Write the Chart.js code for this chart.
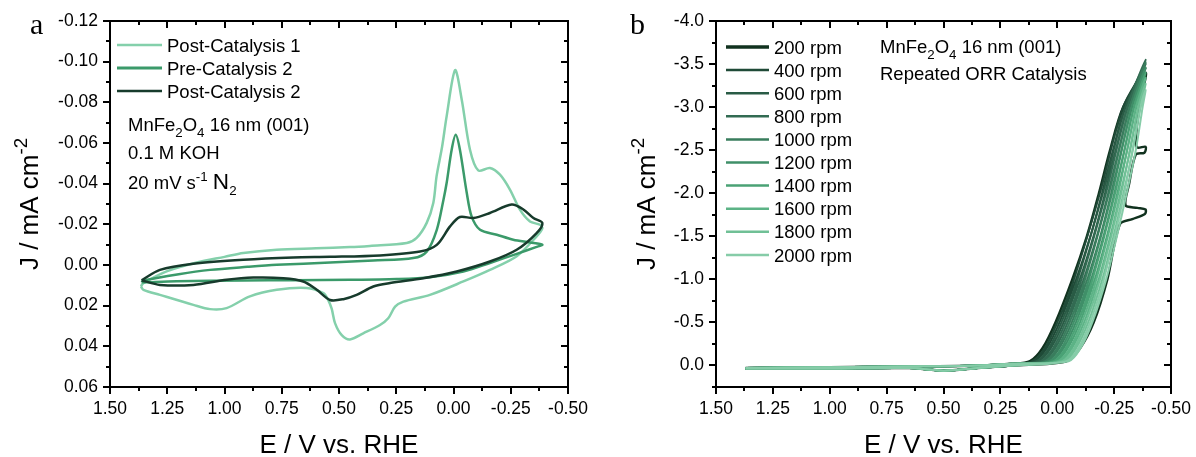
<!DOCTYPE html>
<html>
<head>
<meta charset="utf-8">
<script src="https://cdn.jsdelivr.net/npm/chart.js@4.4.0/dist/chart.umd.min.js"></script>
<style>
  body { margin: 0; background: #fff; }
  #wrap { position: relative; width: 1196px; height: 457px; }
  .panel { position: absolute; top: 0; width: 598px; height: 457px; }
</style>
</head>
<body>
<div id="wrap">
  <div class="panel" style="left:0"><canvas id="cvA" width="598" height="457"></canvas></div>
  <div class="panel" style="left:598px"><canvas id="cvB" width="598" height="457"></canvas></div>
</div>
<script>
// ---------- panel a : CV in N2 ----------
const post1E = [1.365, 1.354, 1.25, 1.121, 1.0, 0.918, 0.772, 0.6, 0.452, 0.365, 0.204, 0.161, 0.117, 0.088, 0.074, 0.05, 0.030, -0.007, -0.036, -0.072, -0.108, -0.159, -0.203, -0.247, -0.290, -0.334, -0.378, -0.388, -0.363, -0.276, -0.159, -0.043, 0.103, 0.219, 0.255, 0.285, 0.321, 0.394, 0.452, 0.488, 0.517, 0.532, 0.55, 0.568, 0.641, 0.772, 0.889, 0.991, 1.063, 1.136, 1.282, 1.354, 1.365];
const post1J = [0.0105, 0.0089, 0.003, -0.0012, -0.004, -0.0059, -0.0075, -0.0082, -0.0088, -0.0094, -0.0108, -0.0133, -0.0207, -0.0306, -0.0436, -0.058, -0.0731, -0.0958, -0.0813, -0.0567, -0.0465, -0.0477, -0.0444, -0.0370, -0.0272, -0.0214, -0.0198, -0.018, -0.0141, -0.0043, 0.0024, 0.0081, 0.0147, 0.0180, 0.0205, 0.0262, 0.0295, 0.0336, 0.0366, 0.0345, 0.0287, 0.0215, 0.0165, 0.0138, 0.0113, 0.0122, 0.0154, 0.0212, 0.0217, 0.0196, 0.0147, 0.0122, 0.0105];

const pre2E = [1.362, 1.354, 1.2, 1.063, 0.9, 0.772, 0.539, 0.35, 0.176, 0.117, 0.073, 0.044, 0.030, 0.008, -0.0096, -0.028, -0.058, -0.079, -0.116, -0.189, -0.261, -0.334, -0.388, -0.36, -0.276, -0.159, -0.043, 0.103, 0.248, 0.452, 0.7, 0.918, 1.209, 1.354, 1.362];
const pre2J = [0.0085, 0.0076, 0.0045, 0.0024, 0.0009, -0.0001, -0.0012, -0.0022, -0.0034, -0.0066, -0.0173, -0.0320, -0.0403, -0.0567, -0.064, -0.0567, -0.0354, -0.0239, -0.0173, -0.0149, -0.0124, -0.0111, -0.0100, -0.0088, -0.0055, -0.0010, 0.0032, 0.0060, 0.0069, 0.0073, 0.0075, 0.0076, 0.0080, 0.0085, 0.0085];

const post2E = [1.362, 1.282, 1.136, 0.918, 0.7, 0.539, 0.321, 0.146, 0.073, 0.015, -0.028, -0.087, -0.159, -0.254, -0.305, -0.349, -0.388, -0.363, -0.276, -0.159, -0.014, 0.132, 0.277, 0.350, 0.423, 0.481, 0.539, 0.597, 0.656, 0.743, 0.874, 0.991, 1.136, 1.282, 1.362];
const post2J = [0.0075, 0.0024, -0.0006, -0.0026, -0.0037, -0.0040, -0.0047, -0.0066, -0.0099, -0.0190, -0.0236, -0.0231, -0.0256, -0.0297, -0.0273, -0.0231, -0.0207, -0.0157, -0.0075, -0.0017, 0.0032, 0.0065, 0.0089, 0.0106, 0.0147, 0.0168, 0.0172, 0.0122, 0.0081, 0.0065, 0.0062, 0.0073, 0.0098, 0.0098, 0.0075];

const cvLabels = ['Post-Catalysis 1', 'Pre-Catalysis 2', 'Post-Catalysis 2'];
const cvColors = ['#84d0ab', '#3b9a6a', '#173b2c'];

// ---------- panel b : ORR at different rotation rates ----------
const rpmLabels = ['200 rpm', '400 rpm', '600 rpm', '800 rpm', '1000 rpm', '1200 rpm', '1400 rpm', '1600 rpm', '1800 rpm', '2000 rpm'];
const rpmColors = ['#11321f', '#1f4a37', '#295b45', '#326b52', '#397d5d', '#3f8f68', '#4aa275', '#5cb386', '#70c096', '#86cca8'];

const rpm200E = [1.37, 1.0, 0.6, 0.35, 0.2, 0.120, 0.065, 0.008, -0.066, -0.130, -0.183, -0.232, -0.290, -0.388, -0.36, -0.345, -0.352, -0.388, -0.383, -0.345, -0.315, -0.30, -0.352, -0.388, -0.385, -0.33, -0.275, -0.22, -0.16, -0.10, -0.04, 0.2, 0.35, 0.5, 0.65, 1.0, 1.37];
const rpm200J = [0.03, 0.02, 0.01, 0.0, -0.02, -0.05, -0.2, -0.5, -1.0, -1.5, -2.0, -2.5, -3.0, -3.40, -3.0, -2.62, -2.53, -2.54, -2.47, -2.45, -2.1, -1.86, -1.83, -1.81, -1.76, -1.70, -1.64, -1.0, -0.5, -0.2, -0.05, 0.0, 0.03, 0.06, 0.03, 0.035, 0.035];
const rpm400E = [1.37, 1.0, 0.6, 0.35, 0.2, 0.101, 0.046, -0.010, -0.083, -0.145, -0.197, -0.245, -0.299, -0.388, -0.289, -0.187, -0.073, 0.000, 0.056, 0.111, 0.2, 0.35, 0.5, 0.65, 1.0, 1.37];
const rpm400J = [0.03, 0.02, 0.01, 0.0, -0.02, -0.05, -0.2, -0.5, -1.0, -1.5, -2.0, -2.5, -3.0, -3.45, -3.0, -2.0, -1.0, -0.5, -0.2, -0.05, 0.0, 0.03, 0.06, 0.03, 0.035, 0.035];
const rpm600E = [1.37, 1.0, 0.6, 0.35, 0.2, 0.082, 0.028, -0.028, -0.099, -0.159, -0.210, -0.257, -0.309, -0.388, -0.299, -0.200, -0.089, -0.018, 0.038, 0.092, 0.2, 0.35, 0.5, 0.65, 1.0, 1.37];
const rpm600J = [0.03, 0.02, 0.01, 0.0, -0.02, -0.05, -0.2, -0.5, -1.0, -1.5, -2.0, -2.5, -3.0, -3.50, -3.0, -2.0, -1.0, -0.5, -0.2, -0.05, 0.0, 0.03, 0.06, 0.03, 0.035, 0.035];
const rpm800E = [1.37, 1.0, 0.6, 0.35, 0.2, 0.063, 0.009, -0.046, -0.116, -0.174, -0.224, -0.270, -0.318, -0.388, -0.308, -0.214, -0.106, -0.036, 0.019, 0.073, 0.2, 0.35, 0.5, 0.65, 1.0, 1.37];
const rpm800J = [0.03, 0.02, 0.01, 0.0, -0.02, -0.05, -0.2, -0.5, -1.0, -1.5, -2.0, -2.5, -3.0, -3.55, -3.0, -2.0, -1.0, -0.5, -0.2, -0.05, 0.0, 0.03, 0.06, 0.03, 0.035, 0.035];
const rpm1000E = [1.37, 1.0, 0.6, 0.35, 0.2, 0.044, -0.009, -0.064, -0.132, -0.189, -0.237, -0.282, -0.328, -0.388, -0.318, -0.227, -0.122, -0.054, 0.001, 0.054, 0.2, 0.35, 0.5, 0.65, 1.0, 1.37];
const rpm1000J = [0.03, 0.02, 0.01, 0.0, -0.02, -0.05, -0.2, -0.5, -1.0, -1.5, -2.0, -2.5, -3.0, -3.52, -3.0, -2.0, -1.0, -0.5, -0.2, -0.05, 0.0, 0.03, 0.06, 0.03, 0.035, 0.035];
const rpm1200E = [1.37, 1.0, 0.6, 0.35, 0.2, 0.026, -0.028, -0.082, -0.149, -0.203, -0.251, -0.295, -0.337, -0.388, -0.327, -0.241, -0.139, -0.072, -0.018, 0.036, 0.2, 0.35, 0.5, 0.65, 1.0, 1.37];
const rpm1200J = [0.03, 0.02, 0.01, 0.0, -0.02, -0.05, -0.2, -0.5, -1.0, -1.5, -2.0, -2.5, -3.0, -3.46, -3.0, -2.0, -1.0, -0.5, -0.2, -0.05, 0.0, 0.03, 0.06, 0.03, 0.035, 0.035];
const rpm1400E = [1.37, 1.0, 0.6, 0.35, 0.2, 0.007, -0.046, -0.100, -0.165, -0.218, -0.264, -0.307, -0.347, -0.388, -0.337, -0.254, -0.155, -0.090, -0.036, 0.017, 0.2, 0.35, 0.5, 0.65, 1.0, 1.37];
const rpm1400J = [0.03, 0.02, 0.01, 0.0, -0.02, -0.05, -0.2, -0.5, -1.0, -1.5, -2.0, -2.5, -3.0, -3.40, -3.0, -2.0, -1.0, -0.5, -0.2, -0.05, 0.0, 0.03, 0.06, 0.03, 0.035, 0.035];
const rpm1600E = [1.37, 1.0, 0.6, 0.35, 0.2, -0.012, -0.065, -0.118, -0.182, -0.233, -0.278, -0.320, -0.356, -0.388, -0.346, -0.268, -0.172, -0.108, -0.055, -0.002, 0.2, 0.35, 0.5, 0.65, 1.0, 1.37];
const rpm1600J = [0.03, 0.02, 0.01, 0.0, -0.02, -0.05, -0.2, -0.5, -1.0, -1.5, -2.0, -2.5, -3.0, -3.34, -3.0, -2.0, -1.0, -0.5, -0.2, -0.05, 0.0, 0.03, 0.06, 0.03, 0.035, 0.035];
const rpm1800E = [1.37, 1.0, 0.6, 0.35, 0.2, -0.031, -0.083, -0.136, -0.198, -0.247, -0.291, -0.332, -0.366, -0.388, -0.356, -0.281, -0.188, -0.126, -0.073, -0.021, 0.2, 0.35, 0.5, 0.65, 1.0, 1.37];
const rpm1800J = [0.03, 0.02, 0.01, 0.0, -0.02, -0.05, -0.2, -0.5, -1.0, -1.5, -2.0, -2.5, -3.0, -3.27, -3.0, -2.0, -1.0, -0.5, -0.2, -0.05, 0.0, 0.03, 0.06, 0.03, 0.035, 0.035];
const rpm2000E = [1.37, 1.0, 0.6, 0.35, 0.2, -0.050, -0.102, -0.154, -0.215, -0.262, -0.305, -0.345, -0.375, -0.388, -0.365, -0.295, -0.205, -0.144, -0.092, -0.040, 0.2, 0.35, 0.5, 0.65, 1.0, 1.37];
const rpm2000J = [0.03, 0.02, 0.01, 0.0, -0.02, -0.05, -0.2, -0.5, -1.0, -1.5, -2.0, -2.5, -3.0, -3.20, -3.0, -2.0, -1.0, -0.5, -0.2, -0.05, 0.0, 0.03, 0.06, 0.03, 0.035, 0.035];

const rpmE = [rpm200E, rpm400E, rpm600E, rpm800E, rpm1000E, rpm1200E, rpm1400E, rpm1600E, rpm1800E, rpm2000E];
const rpmJ = [rpm200J, rpm400J, rpm600J, rpm800J, rpm1000J, rpm1200J, rpm1400J, rpm1600J, rpm1800J, rpm2000J];

// axis tick steps
const xTicksStep = 0.25;
const yTicksStepA = 0.02;
const yTicksStepB = 0.5;

const FONT = '"Liberation Sans", Arial, sans-serif';
const SERIF = '"Liberation Serif", "Times New Roman", serif';
const TITLE_SIZE = 26;
const TEXT_SIZE = 18.5;

function pts(xs, ys) {
    return xs.map((v, i) => ({x: v, y: ys[i]}));
}

function richWidth(ctx, parts, size) {
    let w = 0;
    parts.forEach(p => {
        let fs = size;
        if (p[1] === 'sub' || p[1] === 'sup') fs = size * 0.72;
        if (p[1] === 'big') fs = size * 1.22;
        ctx.font = fs + 'px ' + FONT;
        w += ctx.measureText(p[0]).width;
    });
    return w;
}

function drawRich(ctx, x, y, parts, size) {
    let cx = x;
    parts.forEach(p => {
        let fs = size, dy = 0;
        if (p[1] === 'sub') { fs = size * 0.72; dy = size * 0.3; }
        if (p[1] === 'sup') { fs = size * 0.72; dy = -size * 0.42; }
        if (p[1] === 'big') { fs = size * 1.22; }
        ctx.font = fs + 'px ' + FONT;
        ctx.fillText(p[0], cx, y + dy);
        cx += ctx.measureText(p[0]).width;
    });
}

// frame, minor ticks, mirrored ticks, legend and notes
const decor = {
    id: 'decor',
    afterDraw(chart, args, o) {
        const {ctx, chartArea: a, scales: {x, y}} = chart;
        ctx.save();
        ctx.strokeStyle = '#000';
        ctx.lineWidth = 2;
        const L = Math.round(a.left), R = Math.round(a.right), T = Math.round(a.top), B = Math.round(a.bottom);
        ctx.strokeRect(L, T, R - L, B - T);
        ctx.beginPath();
        let n = Math.round((x.max - x.min) / (o.xStep / 2));
        for (let k = 0; k <= n; k++) {
            const px = Math.round(x.getPixelForValue(x.min + k * o.xStep / 2));
            const len = k % 2 === 0 ? 7 : 4;
            ctx.moveTo(px, B); ctx.lineTo(px, B + len);
            ctx.moveTo(px, T); ctx.lineTo(px, T + len);
        }
        n = Math.round((y.max - y.min) / (o.yStep / 2));
        for (let k = 0; k <= n; k++) {
            const py = Math.round(y.getPixelForValue(y.min + k * o.yStep / 2));
            const len = k % 2 === 0 ? 7 : 4;
            ctx.moveTo(L, py); ctx.lineTo(L - len, py);
            ctx.moveTo(R, py); ctx.lineTo(R - len, py);
        }
        ctx.stroke();

        ctx.fillStyle = '#000';
        ctx.textBaseline = 'alphabetic';
        // legend
        o.legend.forEach((it, i) => {
            const ly = o.legendY + i * o.legendGap;
            ctx.strokeStyle = it.color;
            ctx.lineWidth = it.width;
            ctx.beginPath();
            ctx.moveTo(o.legendX, ly); ctx.lineTo(o.legendX + o.legendLen, ly);
            ctx.stroke();
            ctx.font = TEXT_SIZE + 'px ' + FONT;
            ctx.fillText(it.label, o.legendX + o.legendLen + 5, ly + TEXT_SIZE * 0.36);
        });
        // notes
        o.notes.forEach(nt => drawRich(ctx, nt.x, nt.y, nt.parts, TEXT_SIZE));
        // axis titles
        const xt = [['E / V vs. RHE']];
        const xw = richWidth(ctx, xt, TITLE_SIZE);
        drawRich(ctx, (L + R) / 2 - xw / 2, 453, xt, TITLE_SIZE);
        const yt = [['J / mA cm'], ['-2', 'sup']];
        const yw = richWidth(ctx, yt, TITLE_SIZE);
        ctx.save();
        ctx.translate(o.yTitleX, (T + B) / 2);
        ctx.rotate(-Math.PI / 2);
        drawRich(ctx, -yw / 2, 9, yt, TITLE_SIZE);
        ctx.restore();
        // panel letter
        ctx.font = '30px ' + SERIF;
        ctx.fillText(o.letter, o.letterX, 34);
        ctx.restore();
    }
};

function makeOptions(yMin, yMax, yStep, digits, padRight, yWidth, extra) {
    return {
        responsive: false,
        animation: false,
        devicePixelRatio: 1,
        layout: {padding: {left: 0, right: padRight, top: 21, bottom: 0}},
        elements: {point: {radius: 0}, line: {borderJoinStyle: 'round', capBezierPoints: true}},
        plugins: {legend: {display: false}, tooltip: {enabled: false}, decor: extra},
        scales: {
            x: {
                type: 'linear', reverse: true, min: -0.5, max: 1.5,
                ticks: {stepSize: xTicksStep, includeBounds: false, autoSkip: false, maxRotation: 0, padding: 5, color: '#000',
                        font: {family: FONT, size: 17.5},
                        callback: v => (Math.abs(v) < 1e-9 ? 0 : v).toFixed(2)},
                grid: {drawOnChartArea: false, tickLength: 7, color: 'rgba(0,0,0,0)'},
                border: {display: false},
                afterFit: s => { s.height = 70; }
            },
            y: {
                type: 'linear', reverse: true, min: yMin, max: yMax,
                ticks: {stepSize: yStep, includeBounds: false, autoSkip: false, padding: 5, color: '#000',
                        font: {family: FONT, size: 17.5},
                        callback: v => (Math.abs(v) < 1e-9 ? 0 : v).toFixed(digits)},
                grid: {drawOnChartArea: false, tickLength: 7, color: 'rgba(0,0,0,0)'},
                border: {display: false},
                afterFit: s => { s.width = yWidth; }
            }
        }
    };
}

// panel a
new Chart(document.getElementById('cvA'), {
    type: 'line',
    data: {
        datasets: [
            {label: cvLabels[0], data: pts(post1E, post1J), borderColor: cvColors[0], borderWidth: 2.5, tension: 0.3, fill: false, order: 3},
            {label: cvLabels[1], data: pts(pre2E, pre2J), borderColor: cvColors[1], borderWidth: 2.5, tension: 0.3, fill: false, order: 2},
            {label: cvLabels[2], data: pts(post2E, post2J), borderColor: cvColors[2], borderWidth: 2.5, tension: 0.3, fill: false, order: 1}
        ]
    },
    options: makeOptions(-0.12, 0.06, yTicksStepA, 2, 30, 110, {
        xStep: xTicksStep, yStep: yTicksStepA,
        legend: cvLabels.map((l, i) => ({label: l, color: cvColors[i], width: i === 1 ? 3 : 2.5})),
        legendX: 117, legendY: 45, legendGap: 23, legendLen: 45,
        notes: [
            {x: 128, y: 131, parts: [['MnFe'], ['2', 'sub'], ['O'], ['4', 'sub'], [' 16 nm (001)']]},
            {x: 128, y: 159, parts: [['0.1 M KOH']]},
            {x: 128, y: 189, parts: [['20 mV s'], ['-1', 'sup'], [' '], ['N', 'big'], ['2', 'sub']]}
        ],
        yTitleX: 29, letter: 'a', letterX: 30
    }),
    plugins: [decor]
});

// panel b
new Chart(document.getElementById('cvB'), {
    type: 'line',
    data: {
        datasets: rpmLabels.map((l, i) => ({
            label: l, data: pts(rpmE[i], rpmJ[i]), borderColor: rpmColors[i],
            borderWidth: i === 0 ? 2.5 : 2, tension: 0.3, fill: false, order: 10 - i
        }))
    },
    options: makeOptions(-4.0, 0.25, yTicksStepB, 1, 22, 118, {
        xStep: xTicksStep, yStep: yTicksStepB,
        legend: rpmLabels.map((l, i) => ({label: l, color: rpmColors[i], width: i === 0 ? 3.5 : 2.5})),
        legendX: 128, legendY: 47, legendGap: 23.1, legendLen: 43,
        notes: [
            {x: 282, y: 53, parts: [['MnFe'], ['2', 'sub'], ['O'], ['4', 'sub'], [' 16 nm (001)']]},
            {x: 282, y: 80, parts: [['Repeated ORR Catalysis']]}
        ],
        yTitleX: 48, letter: 'b', letterX: 32
    }),
    plugins: [decor]
});
</script>
</body>
</html>
